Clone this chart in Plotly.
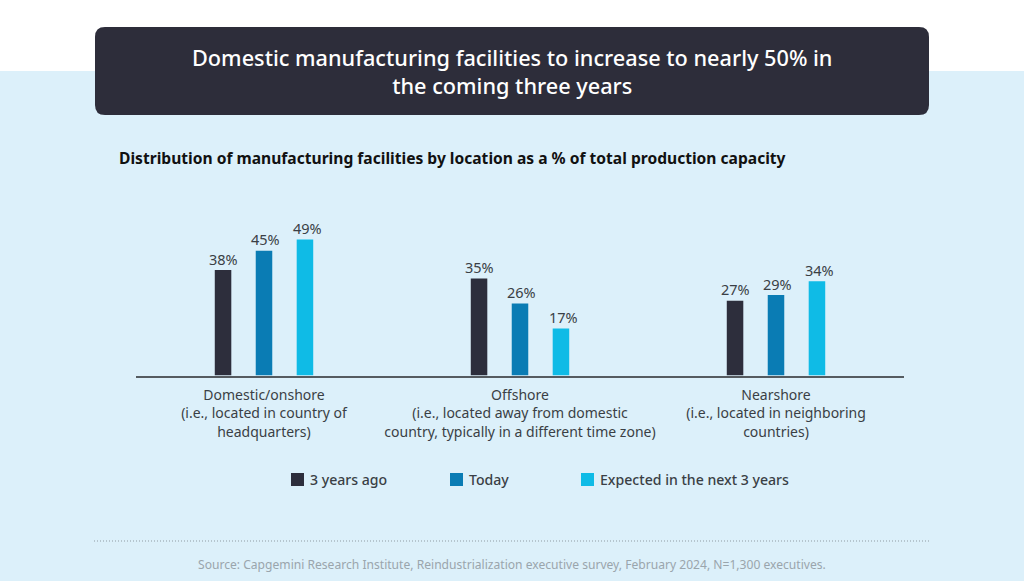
import plotly.graph_objects as go

categories = [
    "Domestic/onshore<br>(i.e., located in country of<br>headquarters)",
    "Offshore<br>(i.e., located away from domestic<br>country, typically in a different time zone)",
    "Nearshore<br>(i.e., located in neighboring<br>countries)",
]
three_years_ago = [38, 35, 27]
today = [45, 26, 29]
next_three_years = [49, 17, 34]

series_names = ["3 years ago", "Today", "Expected in the next 3 years"]
series_colors = ["#2D2E3C", "#0A7CB4", "#0FBBE6"]
series_values = [three_years_ago, today, next_three_years]

W = 1024
H = 581
FONT = "Noto Sans"

# page pixels to paper coordinates, margins are 0 so paper is the whole page
def px(x):
    return x / W

def py(y):
    return 1 - y / H

fig = go.Figure()

for name, color, values in zip(series_names, series_colors, series_values):
    fig.add_trace(go.Bar(
        name=name,
        x=categories,
        y=values,
        width=0.0645,
        marker=dict(color=color, line=dict(width=0)),
        showlegend=False,
    ))

shapes = [
    # page background, white strip on top then light blue
    dict(type="rect", xref="paper", yref="paper", x0=0, x1=1, y0=py(71), y1=0,
         fillcolor="#DCF0FA", line=dict(width=0), layer="below"),
    # dark title box with rounded corners
    dict(type="path", xref="paper", yref="paper", layer="below",
         path="M %f %f L %f %f Q %f %f %f %f L %f %f Q %f %f %f %f L %f %f Q %f %f %f %f L %f %f Q %f %f %f %f Z" % (
             px(105), py(27), px(919), py(27), px(929), py(27), px(929), py(37),
             px(929), py(105), px(929), py(115), px(919), py(115),
             px(105), py(115), px(95), py(115), px(95), py(105),
             px(95), py(37), px(95), py(27), px(105), py(27)),
         fillcolor="#2D2D3A", line=dict(width=0)),
    # dotted rule above the source
    dict(type="line", xref="paper", yref="paper", x0=px(94), x1=px(930), y0=py(541), y1=py(541),
         line=dict(color="#8F9BA3", width=1, dash="1px,2px")),
]

annotations = [
    dict(text="Domestic manufacturing facilities to increase to nearly 50% in<br>the coming three years",
         x=px(512), y=py(71), xref="paper", yref="paper", showarrow=False, align="center",
         xanchor="center", yanchor="middle",
         font=dict(family=FONT, size=21.7, weight=500, color="white")),
    dict(text="<b>Distribution of manufacturing facilities by location as a % of total production capacity</b>",
         x=px(117), y=py(158), xref="paper", yref="paper", showarrow=False,
         xanchor="left", yanchor="middle",
         font=dict(family=FONT, size=15.6, color="#111111")),
    dict(text="Source: Capgemini Research Institute, Reindustrialization executive survey, February 2024, N=1,300 executives.",
         x=px(512), y=py(564), xref="paper", yref="paper", showarrow=False,
         xanchor="center", yanchor="middle",
         font=dict(family=FONT, size=12.1, color="#9AA5AC")),
]

# value labels as annotations so they can sit as close to the bars as in the original
label_shift = [-41, 1, 43]
for values, shift in zip(series_values, label_shift):
    for i, v in enumerate(values):
        annotations.append(dict(text="%d%%" % v, x=i, y=v, xref="x", yref="y", showarrow=False,
                                xanchor="center", yanchor="middle", xshift=shift, yshift=11.5,
                                font=dict(family=FONT, size=14.5, color="#3A3F45")))

# legend drawn by hand, plotly's own leaves too wide a gap after the swatch
legend_x = [291, 450, 581]
for name, color, lx in zip(series_names, series_colors, legend_x):
    shapes.append(dict(type="rect", xref="paper", yref="paper",
                       x0=px(lx), x1=px(lx + 13), y0=py(473), y1=py(486),
                       fillcolor=color, line=dict(width=0)))
    annotations.append(dict(text=name, x=px(lx + 16.5), y=py(479.5), xref="paper", yref="paper",
                            showarrow=False, xanchor="left", yanchor="middle",
                            font=dict(family=FONT, size=14.1, weight=500, color="#3A3F45")))

fig.update_layout(
    barmode="group",
    bargap=0.52,
    bargroupgap=0,
    width=W,
    height=H,
    margin=dict(l=0, r=0, t=0, b=0, pad=0),
    paper_bgcolor="white",
    plot_bgcolor="rgba(0,0,0,0)",
    shapes=shapes,
    annotations=annotations,
    showlegend=False,
    xaxis=dict(domain=[px(136), px(904)], showline=True, linecolor="#555B60", linewidth=1.5,
               ticks="", showgrid=False, ticklabelstandoff=6,
               tickfont=dict(family=FONT, size=14, color="#3A3F45")),
    yaxis=dict(domain=[py(375.6), py(199.6)], visible=False, range=[0, 63.4],
               showgrid=False, zeroline=False),
)

fig.write_html("out.html", config=dict(displayModeBar=False),
               post_script="document.body.style.margin='0';")
